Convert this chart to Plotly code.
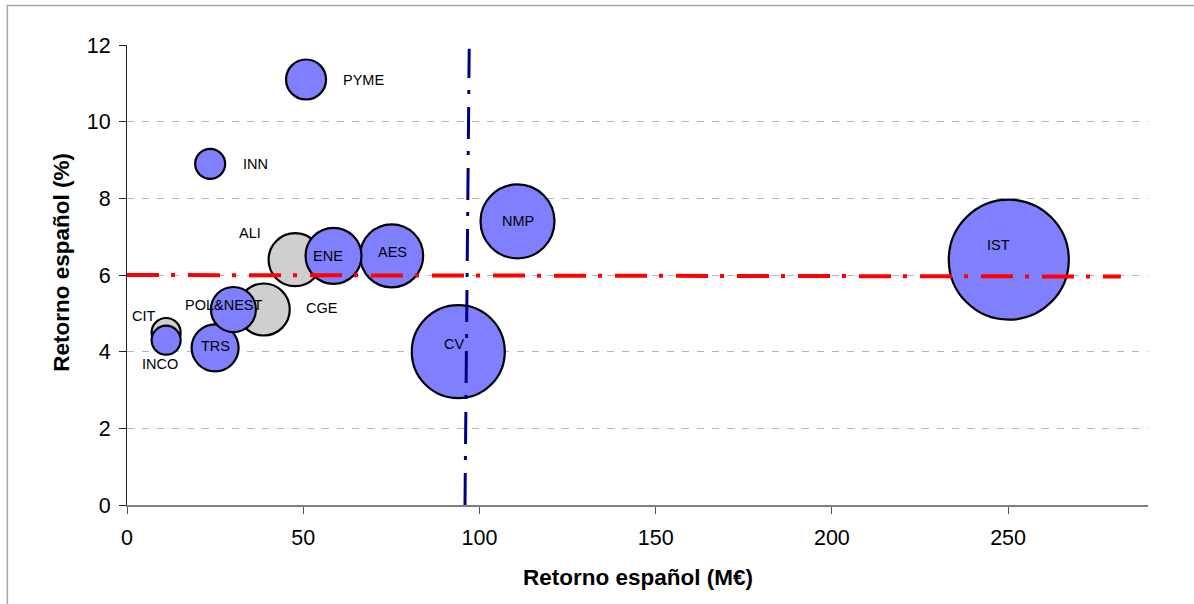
import plotly.graph_objects as go

# ---------------- data ----------------
categorias = ["IST", "CV", "NMP", "AES", "ENE", "ALI", "CGE", "TRS",
              "POL&NEST", "PYME", "INN", "CIT", "INCO"]
retorno_meur = [250.2, 94.0, 110.8, 75.1, 58.6, 47.7, 38.8, 25.0,
                30.2, 50.8, 23.6, 11.1, 11.1]
retorno_pct = [6.4, 4.0, 7.4, 6.5, 6.5, 6.4, 5.1, 4.1,
               5.1, 11.1, 8.9, 4.5, 4.3]
presupuesto = [3625, 2177, 1378, 999, 789, 707, 681, 556,
               510, 403, 227, 212, 212]
tipo = ["azul", "azul", "azul", "azul", "azul", "gris", "gris", "azul",
        "azul", "azul", "azul", "gris", "azul"]

# reference lines
linea_v_x = [95.9, 97.1]
linea_v_y = [0, 11.9]
linea_h_x = [0, 282]
linea_h_y = [6.0, 5.96]

x_ticks = [0, 50, 100, 150, 200, 250]
y_ticks = [0, 2, 4, 6, 8, 10, 12]

# label offsets in pixels (dx, dy with dy positive = up)
label_offsets = {
    "IST": (-10, 15), "CV": (-4, 8), "NMP": (0, 0), "AES": (1, 4),
    "ENE": (-6, 0), "ALI": (-45, 27), "CGE": (58, 2), "TRS": (0, 2),
    "POL&NEST": (-9, 5), "PYME": (57, 0), "INN": (45, 0),
    "CIT": (-22, 17), "INCO": (-6, -24),
}

FONT = "Liberation Sans, Arial, sans-serif"
SIZEREF = 2.0 * max(presupuesto) / (120.0 ** 2)

fig = go.Figure()

for grupo, color in [("gris", "#cfcfcf"), ("azul", "#8080ff")]:
    idx = [i for i, t in enumerate(tipo) if t == grupo]
    fig.add_trace(go.Scatter(
        x=[retorno_meur[i] for i in idx],
        y=[retorno_pct[i] for i in idx],
        mode="markers",
        marker=dict(size=[presupuesto[i] for i in idx], sizemode="area",
                    sizeref=SIZEREF, color=color, opacity=1,
                    line=dict(color="black", width=2.2)),
        hoverinfo="skip", showlegend=False, cliponaxis=False,
    ))

fig.add_trace(go.Scatter(
    x=linea_v_x, y=linea_v_y, mode="lines",
    line=dict(color="#000080", width=3, dash="32px,13px,4px,12px"),
    hoverinfo="skip", showlegend=False))
fig.add_trace(go.Scatter(
    x=linea_h_x, y=linea_h_y, mode="lines",
    line=dict(color="#ff0000", width=4, dash="32px,12px,4px,13px"),
    hoverinfo="skip", showlegend=False))

for i, c in enumerate(categorias):
    dx, dy = label_offsets[c]
    fig.add_annotation(x=retorno_meur[i], y=retorno_pct[i], text=c,
                       showarrow=False, xshift=dx, yshift=dy,
                       font=dict(family=FONT, size=14.5, color="black"))

# axis titles
fig.add_annotation(xref="paper", yref="paper", x=0.5, y=-0.158,
                   yanchor="middle", text="<b>Retorno español (M€)</b>",
                   showarrow=False, font=dict(family=FONT, size=22.5, color="black"))
fig.add_annotation(xref="paper", yref="paper", x=-0.065, y=0.528,
                   xanchor="center", yanchor="middle", textangle=-90,
                   text="<b>Retorno español (%)</b>",
                   showarrow=False, font=dict(family=FONT, size=22.5, color="black"))

# outer chart-area frame
fig.add_shape(type="rect", xref="paper", yref="paper",
              x0=-0.1172, x1=1.2, y0=-0.4, y1=1.0859,
              line=dict(color="#a6a6a6", width=1.5), layer="below")

fig.update_layout(
    width=1194, height=604,
    margin=dict(l=127, r=46, t=45, b=99),
    paper_bgcolor="white", plot_bgcolor="white",
    font=dict(family=FONT, color="black"),
    xaxis=dict(range=[0, 289.7], tickvals=x_ticks, showgrid=False,
               zeroline=False, showline=True, linecolor="#7f7f7f", linewidth=2,
               ticks="outside", ticklen=7, tickcolor="#555555",
               tickfont=dict(size=21.5, family=FONT), ticklabelstandoff=5,
               fixedrange=True),
    yaxis=dict(range=[0, 12], tickvals=y_ticks, showgrid=True,
               gridcolor="#b4b4b4", griddash="7px,8px", gridwidth=1,
               zeroline=False, showline=True, linecolor="#222222", linewidth=1,
               ticks="outside", ticklen=7, tickcolor="#222222",
               tickfont=dict(size=21.5, family=FONT), ticklabelstandoff=4,
               fixedrange=True),
)

fig.write_html("out.html", config={"displayModeBar": False},
               post_script="document.body.style.margin='0px';document.body.style.overflow='hidden';")
